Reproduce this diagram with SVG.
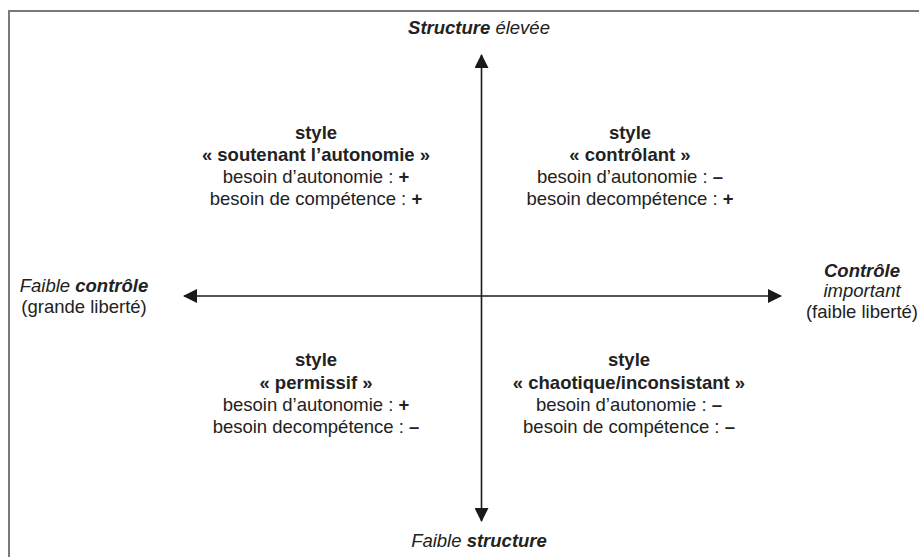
<svg xmlns="http://www.w3.org/2000/svg" width="919" height="557" viewBox="0 0 919 557">
<style>
  text { font-family: "Liberation Sans", Arial, sans-serif; font-size: 18.5px; fill: #222; }
  .c { text-anchor: middle; }
  .b { font-weight: bold; }
  .i { font-style: italic; }
  .axis { stroke: #1a1a1a; stroke-width: 1.6; fill: none; }
  .frame { stroke: #7a7a7a; stroke-width: 2; fill: none; }
</style>
<defs>
  <marker id="ah" viewBox="0 0 14 14" refX="13" refY="7" markerWidth="14" markerHeight="14" markerUnits="userSpaceOnUse" orient="auto">
    <path d="M0,0 L14,7 L0,14 Z" fill="#1a1a1a"/>
  </marker>
</defs>
<rect width="919" height="557" fill="#fff"/>
<path class="frame" d="M9,560 L9,11 L922,11"/>
<g id="connectors">
  <line class="axis" x1="481.5" y1="296" x2="481.5" y2="55" marker-end="url(#ah)"/>
  <line class="axis" x1="481.5" y1="296" x2="481.5" y2="521" marker-end="url(#ah)"/>
  <line class="axis" x1="481.5" y1="296" x2="184" y2="296" marker-end="url(#ah)"/>
  <line class="axis" x1="481.5" y1="296" x2="781" y2="296" marker-end="url(#ah)"/>
</g>
<g id="label-top">
  <text class="c" x="479" y="34"><tspan class="b i">Structure</tspan><tspan class="i"> élevée</tspan></text>
</g>
<g id="label-bottom">
  <text class="c" x="479" y="547"><tspan class="i">Faible </tspan><tspan class="b i">structure</tspan></text>
</g>
<g id="label-left">
  <text class="c" x="84" y="292"><tspan class="i">Faible </tspan><tspan class="b i">contrôle</tspan></text>
  <text class="c" x="84" y="313">(grande liberté)</text>
</g>
<g id="label-right">
  <text class="c b i" x="862" y="277">Contrôle</text>
  <text class="c i" x="862" y="297">important</text>
  <text class="c" x="862" y="318">(faible liberté)</text>
</g>
<g id="q-top-left">
  <text class="c b" x="316" y="139">style</text>
  <text class="c b" x="316" y="161">« soutenant l’autonomie »</text>
  <text class="c" x="316" y="183">besoin d’autonomie : <tspan class="b">+</tspan></text>
  <text class="c" x="316" y="205">besoin de compétence : <tspan class="b">+</tspan></text>
</g>
<g id="q-top-right">
  <text class="c b" x="630" y="139">style</text>
  <text class="c b" x="630" y="161">« contrôlant »</text>
  <text class="c" x="630" y="183">besoin d’autonomie : <tspan class="b">–</tspan></text>
  <text class="c" x="630" y="205">besoin decompétence : <tspan class="b">+</tspan></text>
</g>
<g id="q-bottom-left">
  <text class="c b" x="316" y="366">style</text>
  <text class="c b" x="316" y="389">« permissif »</text>
  <text class="c" x="316" y="411">besoin d’autonomie : <tspan class="b">+</tspan></text>
  <text class="c" x="316" y="433">besoin decompétence : <tspan class="b">–</tspan></text>
</g>
<g id="q-bottom-right">
  <text class="c b" x="629" y="366">style</text>
  <text class="c b" x="629" y="389">« chaotique/inconsistant »</text>
  <text class="c" x="629" y="411">besoin d’autonomie : <tspan class="b">–</tspan></text>
  <text class="c" x="629" y="433">besoin de compétence : <tspan class="b">–</tspan></text>
</g>
</svg>
